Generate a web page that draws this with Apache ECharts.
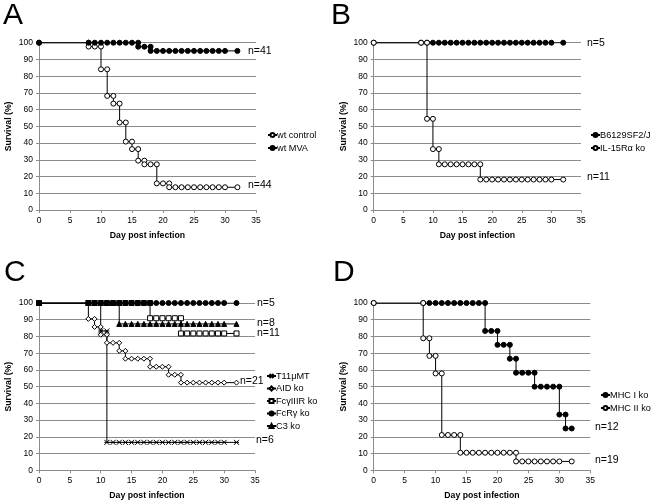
<!DOCTYPE html>
<html>
<head>
<meta charset="utf-8">
<script src="https://cdn.jsdelivr.net/npm/echarts@6/dist/echarts.min.js"></script>
<style>
html,body{margin:0;padding:0;background:#fff;}
#c{width:654px;height:504px;}
</style>
</head>
<body>
<div id="c"></div>
<script>
// ---- Data (days with markers, survival % at each day) ----
const DAYS    = [0,8,9,10,11,12,13,14,15,16,17,18,19,20,21,22,23,24,25,26,27,28,29,30,32];
const DAYS_31 = [0,8,9,10,11,12,13,14,15,16,17,18,19,20,21,22,23,24,25,26,27,28,29,30,31,32];

// Panel A
const wtControl = [100,97.7,97.7,84.1,68.2,63.6,52.3,40.9,36.4,29.5,27.3,27.3,15.9,15.9,13.6,13.6,13.6,13.6,13.6,13.6,13.6,13.6,13.6,13.6,13.6];
const wtMVA     = [100,100,100,100,100,100,100,100,100,97.6,97.6,95.1,95.1,95.1,95.1,95.1,95.1,95.1,95.1,95.1,95.1,95.1,95.1,95.1,95.1];
// Panel B
const b6129     = [100,100,100,100,100,100,100,100,100,100,100,100,100,100,100,100,100,100,100,100,100,100,100,100,100];
const il15Ra    = [100,100,54.5,36.4,27.3,27.3,27.3,27.3,27.3,27.3,27.3,18.2,18.2,18.2,18.2,18.2,18.2,18.2,18.2,18.2,18.2,18.2,18.2,18.2,18.2];
// Panel C
const t11uMT    = [100,100,100,83.3,16.7,16.7,16.7,16.7,16.7,16.7,16.7,16.7,16.7,16.7,16.7,16.7,16.7,16.7,16.7,16.7,16.7,16.7,16.7,16.7,16.7];
const aidKo     = [100,90.5,85.7,81.0,76.2,76.2,71.4,66.7,66.7,66.7,66.7,61.9,61.9,61.9,57.1,57.1,52.4,52.4,52.4,52.4,52.4,52.4,52.4,52.4,52.4];
const fcgIIIRKo = [100,100,100,100,100,100,100,100,100,100,100,90.9,90.9,90.9,90.9,90.9,81.8,81.8,81.8,81.8,81.8,81.8,81.8,81.8,81.8];
const fcRgKo    = [100,100,100,100,100,100,100,100,100,100,100,100,100,100,100,100,100,100,100,100,100,100,100,100,100];
const c3Ko      = [100,100,100,100,100,100,87.5,87.5,87.5,87.5,87.5,87.5,87.5,87.5,87.5,87.5,87.5,87.5,87.5,87.5,87.5,87.5,87.5,87.5,87.5];
// Panel D
const mhcIKo    = [100,100,100,100,100,100,100,100,100,100,100,83.3,83.3,75,75,66.7,58.3,58.3,58.3,50,50,50,50,33.3,25,25];
const mhcIIKo   = [100,78.9,68.4,57.9,21.1,21.1,21.1,10.5,10.5,10.5,10.5,10.5,10.5,10.5,10.5,10.5,5.3,5.3,5.3,5.3,5.3,5.3,5.3,5.3,5.3];

// Axis ticks
const X_MIN = 0, X_MAX = 35, X_STEP = 5;
const Y_MIN = 0, Y_MAX = 100, Y_STEP = 10;

// Kaplan-Meier step points: at each drop, a marker at the previous and the new level
function steps(days, surv) {
  const pts = [[days[0], surv[0]]];
  for (let i = 1; i < days.length; i++) {
    if (surv[i] !== surv[i-1]) pts.push([days[i], surv[i-1]]);
    pts.push([days[i], surv[i]]);
  }
  return pts;
}

const FONT = 'Liberation Sans, Arial, sans-serif';
const GRAY = '#8c8c8c';
const grids = [
  {left: 39,  top: 42.7, width: 217, height: 167.3},
  {left: 373.7, top: 42.7, width: 207.3, height: 167.3},
  {left: 39,  top: 303, width: 216, height: 167.3},
  {left: 373.7, top: 303, width: 216.6, height: 167.3}
];

const xAxes = grids.map((g, i) => ({
  gridIndex: i, type: 'value', min: X_MIN, max: X_MAX, interval: X_STEP,
  axisLine: {show: true, lineStyle: {color: GRAY, width: 1}},
  axisTick: {show: true, length: 3, lineStyle: {color: GRAY}},
  axisLabel: {fontSize: 8.5, color: '#000', fontFamily: FONT, margin: 6},
  splitLine: {show: false},
  name: 'Day post infection', nameLocation: 'middle', nameGap: 21,
  nameTextStyle: {fontSize: 8.7, fontWeight: 'bold', color: '#000', fontFamily: FONT}
}));
const yAxes = grids.map((g, i) => ({
  gridIndex: i, type: 'value', min: Y_MIN, max: Y_MAX, interval: Y_STEP,
  axisLine: {show: true, lineStyle: {color: GRAY, width: 1}},
  axisTick: {show: true, length: 3, lineStyle: {color: GRAY}},
  axisLabel: {fontSize: 8.5, color: '#000', fontFamily: FONT, margin: 6},
  splitLine: {show: true, lineStyle: {color: GRAY, width: 1}},
  name: 'Survival (%)', nameLocation: 'middle', nameRotate: 90, nameGap: 26,
  nameTextStyle: {fontSize: 8.7, fontWeight: 'bold', color: '#000', fontFamily: FONT}
}));

const STAR = 'path://M0,0L10,10M10,0L0,10M0,5L10,5';
function mk(name, gi, days, surv, symbol, size, fill) {
  return {
    name, type: 'line', xAxisIndex: gi, yAxisIndex: gi,
    data: steps(days, surv),
    symbol, symbolSize: size, showSymbol: true, showAllSymbol: true,
    lineStyle: {color: '#000', width: 1},
    itemStyle: {color: fill, borderColor: '#000', borderWidth: 1},
    emphasis: {disabled: true}, animation: false
  };
}

const series = [
  mk('wt control', 0, DAYS, wtControl, 'circle', 5, '#fff'),
  mk('wt MVA', 0, DAYS, wtMVA, 'circle', 5, '#000'),
  mk('B6129SF2/J', 1, DAYS, b6129, 'circle', 5, '#000'),
  mk('IL-15Rα ko', 1, DAYS, il15Ra, 'circle', 5, '#fff'),
  mk('T11μMT', 2, DAYS, t11uMT, STAR, 5, 'none'),
  mk('AID ko', 2, DAYS, aidKo, 'diamond', 5, '#fff'),
  mk('FcγIIIR ko', 2, DAYS, fcgIIIRKo, 'rect', 5, '#fff'),
  mk('FcRγ ko', 2, DAYS, fcRgKo, 'circle', 5, '#000'),
  mk('C3 ko', 2, DAYS, c3Ko, 'triangle', 5, '#000'),
  mk('MHC I ko', 3, DAYS_31, mhcIKo, 'circle', 5, '#000'),
  mk('MHC II ko', 3, DAYS, mhcIIKo, 'circle', 5, '#fff')
];

function lg(data, left, top, gap) {
  return {
    data, left, top, orient: 'vertical', padding: 0, itemGap: gap,
    itemWidth: 9, itemHeight: 5, selectedMode: false,
    textStyle: {fontSize: 9.2, color: '#000', fontFamily: FONT, lineHeight: 12, padding: [0,0,0,-5]}
  };
}
const legends = [
  lg(['wt control', 'wt MVA'], 267, 129, 1),
  lg(['B6129SF2/J', 'IL-15Rα ko'], 590, 129, 1),
  lg(['T11μMT', 'AID ko', 'FcγIIIR ko', 'FcRγ ko', 'C3 ko'], 266, 370, 0.5),
  lg(['MHC I ko', 'MHC II ko'], 600, 389, 1)
];

function label(s, x, y) {
  return {type: 'text', x: x, y: y, silent: true,
    style: {text: s, fontSize: 10.5, fontFamily: FONT, fill: '#000', textVerticalAlign: 'middle', textAlign: 'left'}};
}
function letter(s, x, y) {
  return {type: 'text', x: x, y: y, silent: true,
    style: {text: s, fontSize: 30, fontFamily: FONT, fill: '#000', textVerticalAlign: 'middle', textAlign: 'left'}};
}

const graphics = [
  letter('A', 3, 16), letter('B', 331, 16), letter('C', 4, 273), letter('D', 333, 273),
  label('n=41', 248, 51), label('n=44', 248, 185),
  label('n=5', 587, 43), label('n=11', 587, 177),
  label('n=5', 257, 303), label('n=8', 257, 323), label('n=11', 257, 333),
  label('n=21', 240, 381), label('n=6', 256, 440),
  label('n=12', 595, 427), label('n=19', 595, 460)
];

const chart = echarts.init(document.getElementById('c'), null, {renderer: 'canvas'});
chart.setOption({
  animation: false,
  backgroundColor: '#fff',
  grid: grids.map(g => Object.assign({containLabel: false}, g)),
  xAxis: xAxes, yAxis: yAxes,
  legend: legends,
  series: series,
  graphic: graphics
});
</script>
</body>
</html>
